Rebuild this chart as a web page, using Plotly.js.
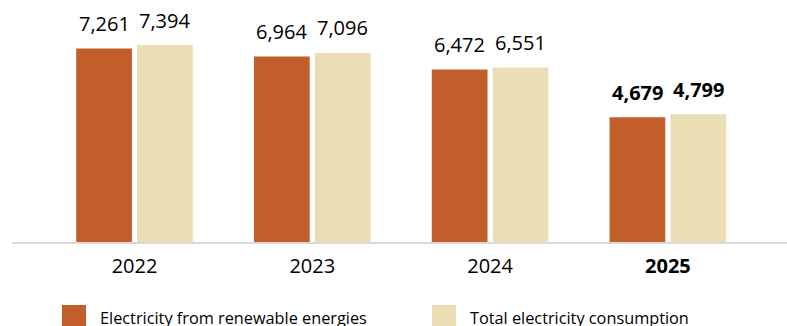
<!DOCTYPE html>
<html>
<head>
<meta charset="utf-8">
<script src="https://cdn.plot.ly/plotly-3.0.1.min.js"></script>
<style>html,body{margin:0;padding:0;background:#fff;}#chart{width:787px;height:326px;}</style>
</head>
<body>
<div id="chart"></div>
<script>
const years = ["2022", "2023", "2024", "2025"];
const yearLabels = ["2022", "2023", "2024", "<b>2025</b>"];
const renewable = [7261, 6964, 6472, 4679];
const total = [7394, 7096, 6551, 4799];
const seriesNames = ["Electricity from renewable energies", "Total electricity consumption"];
const colors = ["#C15E29", "#EBDDB4"];

const FONT = "Open Sans, Noto Sans, sans-serif";
const bargap = 0.315, bargroupgap = 0.085;
const slot = (1 - bargap) / 2;

const ML = 12, PW = 787 - ML, PH = 242;
function px(x) { return (x - ML) / PW; }
function py(y) { return (PH - y) / PH; }
function fmt(v) { return v.toLocaleString("en-US"); }

const traces = [renewable, total].map((vals, i) => ({
  type: "bar", x: years, y: vals, name: seriesNames[i],
  marker: {color: colors[i], line: {width: 0}}, showlegend: false, hoverinfo: "skip"
}));

const annotations = [];
[renewable, total].forEach((vals, s) => {
  vals.forEach((v, k) => {
    const bold = k === years.length - 1;
    annotations.push({
      xref: "x", yref: "y", x: k + (s === 0 ? -slot / 2 : slot / 2), y: v,
      text: bold ? "<b>" + fmt(v) + "</b>" : fmt(v),
      showarrow: false, yanchor: "middle", yshift: 25,
      font: {family: FONT, size: 20, color: "#000"}
    });
  });
});

// custom legend
const legendX = [62, 432];
const shapes = [];
seriesNames.forEach((n, i) => {
  shapes.push({type: "rect", xref: "paper", yref: "paper",
    x0: px(legendX[i]), x1: px(legendX[i] + 24),
    y0: py(330), y1: py(305),
    fillcolor: colors[i], line: {width: 0}});
  annotations.push({xref: "paper", yref: "paper",
    x: px(legendX[i] + 36), y: py(317.5),
    xanchor: "left", yanchor: "middle", showarrow: false, text: n,
    font: {family: FONT, size: 16.3, color: "#000"}});
});

const layout = {
  width: 787, height: 326,
  margin: {l: ML, r: 0, t: 0, b: 326 - PH, pad: 0},
  paper_bgcolor: "#fff", plot_bgcolor: "#fff",
  barmode: "group", bargap: bargap, bargroupgap: bargroupgap,
  xaxis: {
    type: "category", range: [-0.689, 3.67],
    tickvals: years, ticktext: yearLabels,
    showline: true, linecolor: "#D9D9D9", linewidth: 2,
    showgrid: false, zeroline: false, ticks: "",
    tickfont: {family: FONT, size: 20, color: "#000"},
    ticklabelstandoff: 5
  },
  yaxis: {range: [0, 9084], visible: false, showgrid: false, zeroline: false},
  annotations: annotations, shapes: shapes,
  font: {family: FONT}
};

Plotly.newPlot("chart", traces, layout, {staticPlot: true, displayModeBar: false});
</script>
</body>
</html>
